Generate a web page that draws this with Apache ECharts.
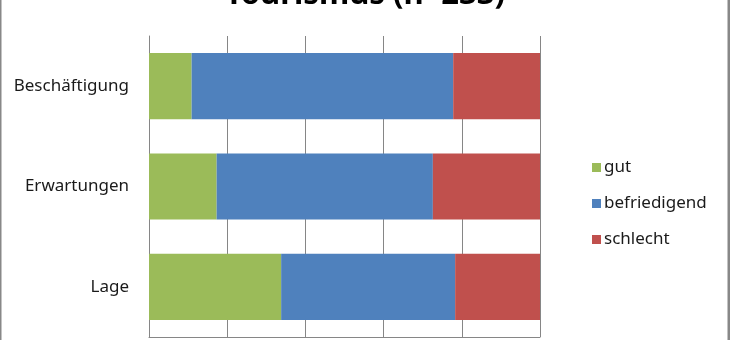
<!DOCTYPE html>
<html>
<head>
<meta charset="utf-8">
<script src="https://cdn.jsdelivr.net/npm/echarts@6/dist/echarts.min.js"></script>
<style>
html,body{margin:0;padding:0;background:#fff;}
#c{width:730px;height:340px;}
</style>
</head>
<body>
<div id="c"></div>
<script>
const categories = ['Beschäftigung', 'Erwartungen', 'Lage'];
const gut = [10.9, 17.3, 33.8];
const befriedigend = [66.9, 55.3, 44.5];
const schlecht = [22.2, 27.4, 21.7];
const xTicks = [0, 20, 40, 60, 80, 100];

const chart = echarts.init(document.getElementById('c'));
const font = 'Noto Sans, sans-serif';
function bar(name, data, color) {
  return {
    name: name, type: 'bar', stack: 'total', data: data,
    barCategoryGap: '34%',
    itemStyle: { color: color },
    emphasis: { disabled: true }
  };
}
chart.setOption({
  animation: false,
  title: {
    text: 'Tourismus (n=233)',
    left: 'center',
    top: -25,
    textStyle: { fontFamily: font, fontSize: 31, fontWeight: 'bold', color: '#000' }
  },
  grid: { left: 149, right: 190, top: 36, bottom: 3, containLabel: false },
  xAxis: {
    type: 'value', min: xTicks[0], max: xTicks[xTicks.length - 1], interval: 20,
    axisLabel: { show: false },
    axisLine: { show: true, lineStyle: { color: '#868686' } },
    axisTick: { show: false },
    splitLine: { show: true, lineStyle: { color: '#868686', width: 1 } }
  },
  yAxis: {
    type: 'category', data: categories, inverse: true,
    axisLine: { show: true, lineStyle: { color: '#868686' } },
    axisTick: { show: false },
    axisLabel: { fontFamily: font, fontSize: 17, color: '#1a1a1a', margin: 20 }
  },
  legend: {
    orient: 'vertical', left: 587, top: 154,
    itemWidth: 9, itemHeight: 9, itemGap: 19,
    icon: 'rect',
    textStyle: { fontFamily: font, fontSize: 17, color: '#1a1a1a', padding: [0, 0, 0, -2] },
    data: ['gut', 'befriedigend', 'schlecht']
  },
  series: [
    bar('gut', gut, '#9BBB59'),
    bar('befriedigend', befriedigend, '#4F81BD'),
    bar('schlecht', schlecht, '#C0504D')
  ],
  graphic: [
    { type: 'rect', shape: { x: 0, y: -5, width: 729, height: 360 },
      style: { fill: 'none', stroke: '#888', lineWidth: 3 }, silent: true }
  ]
});
</script>
</body>
</html>
